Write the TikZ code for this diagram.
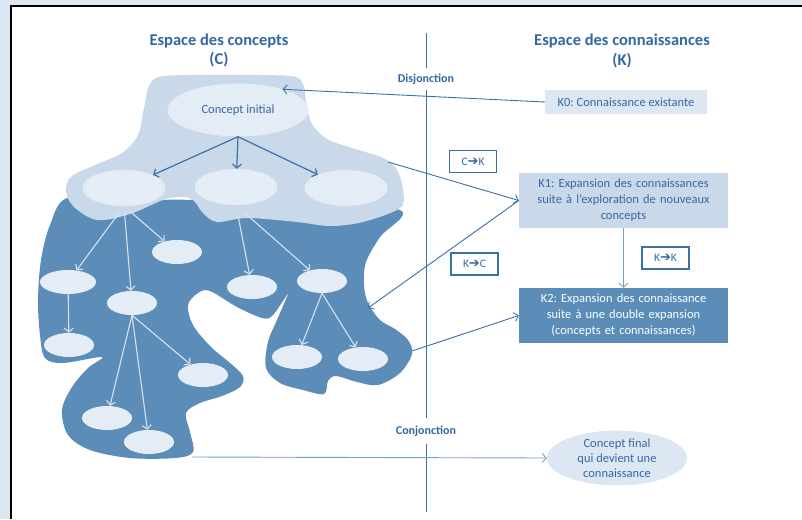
\documentclass[tikz,border=0pt]{standalone}
\usepackage{fontspec}
\setmainfont{Carlito}
\newfontfamily\flechefont{DejaVu Sans}
\usetikzlibrary{arrows.meta,shapes.geometric}
\definecolor{fondbleu}{RGB}{220,231,243}
\definecolor{bleutexte}{RGB}{52,104,163}
\definecolor{bleufonce}{RGB}{92,141,185}
\definecolor{bleuclair}{RGB}{201,217,233}
\definecolor{bleupale}{RGB}{228,236,245}
\definecolor{bleutrait}{RGB}{62,112,168}
\definecolor{bleumoyen}{RGB}{120,158,200}
\definecolor{blanccasse}{RGB}{214,226,239}
\newcommand{\fl}{{\flechefont\fontsize{13}{14}\selectfont ➔}}
\frenchspacing

\begin{document}
\begin{tikzpicture}[x=1pt,y=-1pt,
  bulle/.style={ellipse,fill=bleupale,inner sep=0pt,minimum width=50pt,minimum height=24pt},
  grande/.style={bulle,minimum width=83pt,minimum height=36pt},
  kboite/.style={inner sep=0pt,text width=209pt,minimum height=55pt,align=center,
    font=\fontsize{12.5}{16}\selectfont},
  etiq/.style={draw=bleutrait,line width=1.2pt,fill=white,minimum width=47pt,minimum height=22pt,
    inner sep=0pt,text=bleutexte,font=\fontsize{11.5}{14}\selectfont},
  titre/.style={text=bleutexte,align=center,font=\bfseries\fontsize{16.5}{19.5}\selectfont},
  jonction/.style={text=bleutexte,fill=white,inner xsep=2pt,font=\bfseries\fontsize{12}{14}\selectfont},
  lien/.style={draw=bleutrait,line width=.9pt,-{Straight Barb[length=4pt,width=9pt]}},
  fleche/.style={draw=blanccasse,line width=1.1pt,-{Straight Barb[length=4pt,width=9pt]}}]
 \useasboundingbox (0,0) rectangle (802,519);
 \fill[fondbleu] (0,0) rectangle (802,519);
 \fill[white] (11,6) rectangle (802,519);
 \draw[black,line width=2pt] (11,519) -- (11,6) -- (802,6);

 % espace des concepts : la masse foncee, puis le plateau clair par-dessus
 \fill[bleufonce] plot[smooth cycle,tension=.55] coordinates {
  (67,198) (50,225) (41,260) (38,300) (40,335) (45,358) (63,363) (102,357) (88,368)
  (72,387) (62,410) (68,435) (90,450) (130,458) (175,458) (193,452) (190,432)
  (186,413) (200,403) (222,396) (240,387) (243,376) (230,363) (210,346) (193,325)
  (188,305) (198,293) (210,291) (237,307) (262,318) (272,316) (283,301) (288,294)
  (277,320) (268,342) (266,368) (280,383) (303,390) (324,394) (328,381) (336,376)
  (357,382) (378,385) (400,373) (412,354) (408,340) (395,329) (380,320) (368,303)
  (364,285) (366,262) (380,237) (400,210) (300,205) (200,200) (120,200)};
 \fill[bleuclair] plot[smooth cycle,tension=.55] coordinates {
  (150,84) (165,76) (225,75) (290,76) (303,84) (306,102) (312,124) (327,139)
  (352,148) (383,158) (397,170) (403,190) (400,208) (363,222) (330,226) (297,222)
  (247,218) (217,222) (203,213) (193,200) (180,197) (163,200) (130,214) (97,220)
  (73,206) (66,190) (72,176) (95,165) (122,153) (138,135) (144,108)};

 \node[bulle,minimum width=141pt,minimum height=53pt,text=bleutexte,
   font=\fontsize{12.5}{15}\selectfont] (ci) at (238,110) {Concept initial};
 \node[grande] (ca) at (124,188) {};
 \node[grande] (cb) at (236,187) {};
 \node[grande] (cc) at (346,188) {};
 \node[bulle,minimum width=56pt] (ca1) at (68,282) {};
 \node[bulle] (ca2) at (132,303) {};
 \node[bulle] (ca3) at (177,252) {};
 \node[bulle] (cb1) at (252,287) {};
 \node[bulle] (cb2) at (322,281) {};
 \node[bulle] (ca11) at (69,345) {};
 \node[bulle] (ca21) at (107,418) {};
 \node[bulle] (ca22) at (149,442) {};
 \node[bulle] (ca23) at (203,375) {};
 \node[bulle] (cb21) at (297,357) {};
 \node[bulle] (cb22) at (363,359) {};

 \foreach \b in {ca,cb,cc}
  \draw[lien,line width=1.2pt] (ci.south) -- (\b);
 \foreach \b in {ca1,ca2,ca3}
  \draw[fleche,shorten <=7pt] (ca.south) -- (\b);
 \foreach \b in {cb1,cb2}
  \draw[fleche,shorten <=11pt] (cb.south) -- (\b);
 \draw[fleche] (ca1) -- (ca11);
 \foreach \b in {ca21,ca22,ca23}
  \draw[fleche] (ca2.south) -- (\b);
 \foreach \b in {cb21,cb22}
  \draw[fleche] (cb2.south) -- (\b);

 % separation C / K
 \coordinate (hautdiv) at (426,33);
 \coordinate (basdiv) at (426,512);
 \draw[bleutrait,line width=.8pt] (hautdiv) -- (basdiv);
 \node[jonction,minimum height=22pt] (disj) at (426,79) {Disjonction};
 \node[jonction,minimum height=26pt] (conj) at (426,431) {Conjonction};

 \node[titre] (tc) at (219,50.5) {Espace des concepts\\(C)};
 \node[titre] (tk) at (622,51) {Espace des connaissances\\(K)};

 % espace des connaissances
 \node[fill=fondbleu,text=bleutexte,minimum width=162pt,minimum height=24pt,inner sep=0pt,
   font=\fontsize{12.5}{15}\selectfont] (k0) at (626,102) {K0: Connaissance existante};
 \node[kboite,fill=bleuclair,text=bleutexte] (k1) at (623.5,200.5)
   {K1: Expansion des connaissances\\suite à l’exploration de nouveaux\\concepts};
 \node[kboite,fill=bleufonce,text=white] (k2) at (623.5,315.5)
   {K2: Expansion des connaissance\\suite à une double expansion\\(concepts et connaissances)};
 \node[ellipse,fill=fondbleu,minimum width=140pt,minimum height=53pt,inner sep=0pt,align=center,
   text=bleutexte,font=\fontsize{12.5}{15}\selectfont] (cfinal) at (617,458)
   {Concept final\\qui devient une\\connaissance};

 \node[etiq] (ck) at (473,161.5) {C\fl K};
 \node[etiq] (kc) at (474.5,264) {K\fl C};
 \node[etiq] (kk) at (665.5,258) {K\fl K};

 \coordinate (bordc) at (388,162);
 \coordinate (creux) at (368,308);
 \coordinate (pointe) at (412,351);
 \coordinate (fondc) at (192,457);
 \draw[lien] (k0.west) -- (ci.25);
 \draw[lien] (bordc) -- (k1.west);
 \draw[lien] (k1.west) -- (creux);
 \draw[lien] (pointe) -- (k2.west);
 \draw[lien,draw=bleumoyen] (k1) -- (k2);
 \draw[lien,draw=bleumoyen] (fondc) -- (cfinal.west);
\end{tikzpicture}
\end{document}
